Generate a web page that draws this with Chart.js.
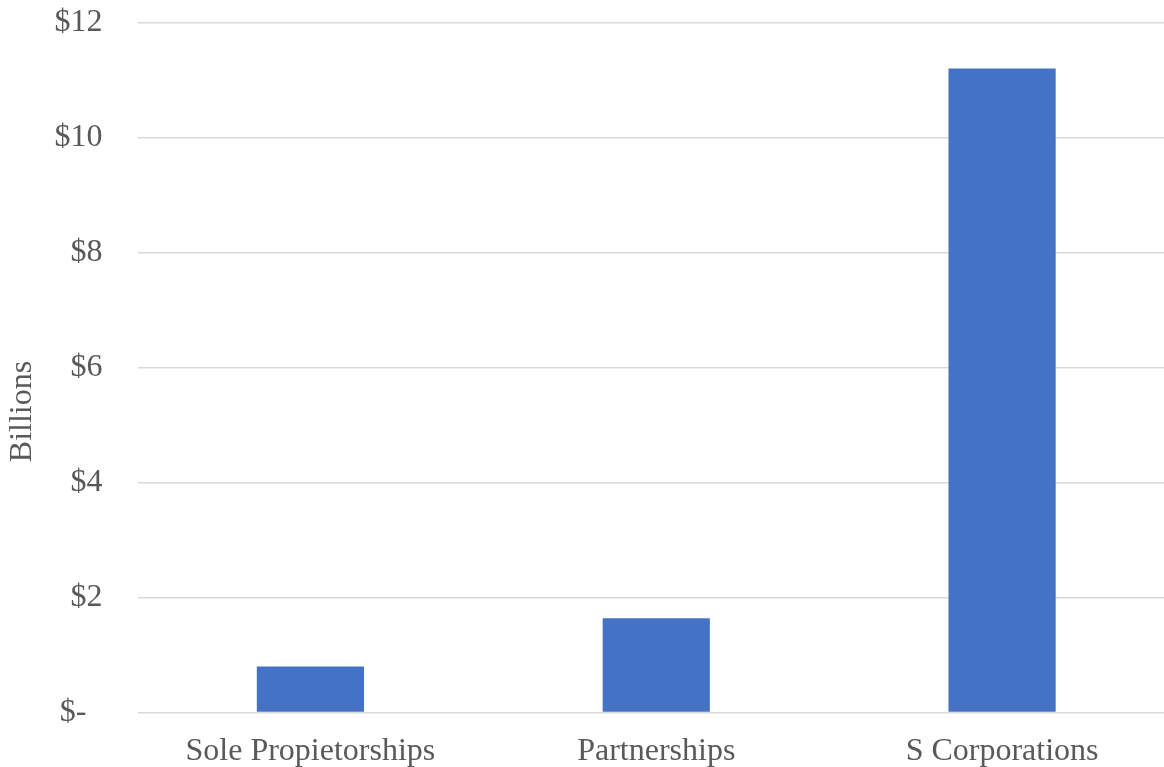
<!DOCTYPE html>
<html>
<head>
<meta charset="utf-8">
<script src="https://cdn.jsdelivr.net/npm/chart.js@4.4.1/dist/chart.umd.min.js"></script>
<style>
  html, body { margin: 0; padding: 0; background: #fff; overflow: hidden; }
  #wrap { width: 1164px; height: 767px; overflow: hidden; }
</style>
</head>
<body>
<div id="wrap"><canvas id="income" width="1175" height="767"></canvas></div>
<script>
const categories = ["Sole Propietorships", "Partnerships", "S Corporations"];
const billions = [0.80, 1.64, 11.20];
const yTickLabels = ["$-  ", "$2", "$4", "$6", "$8", "$10", "$12"];

window.addEventListener('load', function () {
  const grey = "#595959";
  const font = { family: "'Liberation Serif', 'Times New Roman', serif", size: 32 };

  let context = document.querySelector("#income").getContext('2d');
  new Chart(context, {
    type: 'bar',
    data: {
      labels: categories,
      datasets: [{
        data: billions,
        backgroundColor: "#4472C4",
        barPercentage: 0.31,
        categoryPercentage: 1
      }]
    },
    options: {
      responsive: false,
      animation: false,
      layout: { padding: { top: 22.5, bottom: -22.9, left: 0, right: 0 } },
      plugins: { legend: { display: false }, tooltip: { enabled: false } },
      scales: {
        x: {
          grid: { display: false, drawTicks: false },
          border: { display: false },
          ticks: { color: grey, font: font, padding: 19.5, maxRotation: 0 }
        },
        y: {
          min: 0,
          max: 12,
          afterFit: function (scale) {
            // fixed axis width; tick padding should not eat into the plot height
            scale.width = 137.5;
            scale.paddingTop = 0;
            scale.paddingBottom = 0;
          },
          grid: { color: "#d9d9d9", lineWidth: 1.5, drawTicks: false },
          border: { display: false },
          ticks: {
            stepSize: 2,
            color: grey,
            font: font,
            padding: 35,
            callback: function (value, index) { return yTickLabels[index]; }
          },
          title: {
            display: true,
            // trailing spaces push the rotated word down a little
            text: "Billions           ",
            color: grey,
            font: font,
            padding: { top: 3, bottom: 0 }
          }
        }
      }
    }
  });
});
</script>
</body>
</html>
